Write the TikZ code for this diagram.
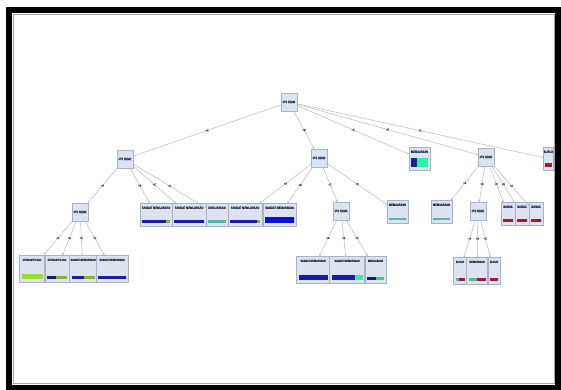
\documentclass[tikz,border=0pt]{standalone}
\usepackage{fontspec}
\usepackage{tikz}
\usetikzlibrary{arrows.meta,calc}
\newfontfamily\treefont[FakeStretch=0.8,FakeBold=1.2]{Liberation Sans}
\definecolor{boxfill}{HTML}{DCE2F0}
\definecolor{boxline}{HTML}{A8B0CC}
\definecolor{edgegray}{HTML}{B8B8B8}
\definecolor{labgray}{HTML}{505050}
\definecolor{textdark}{HTML}{26283A}
\definecolor{sangat}{HTML}{1A1AA6}
\definecolor{brightblue}{HTML}{0A12D8}
\definecolor{navy}{HTML}{14205A}
\definecolor{mint}{HTML}{30EFA8}
\definecolor{teal}{HTML}{5AB4A4}
\definecolor{olive}{HTML}{86B03A}
\definecolor{lime}{HTML}{92E030}
\definecolor{buruk}{HTML}{A01A3A}

\begin{document}
\begin{tikzpicture}[x=1pt,y=-1pt,
 attr/.style={draw=boxline,fill=boxfill,line width=0.4pt,text=textdark,
              font={\treefont\fontsize{3.4}{3.8}\selectfont},
              minimum width=16pt,minimum height=18pt,inner sep=0.5pt},
 leaf/.style={draw=boxline,fill=boxfill,line width=0.4pt,anchor=north,text=textdark,
              font={\treefont\fontsize{3.3}{3.6}\selectfont},
              inner xsep=0.5pt,inner ysep=2.5pt,text height=3.2pt,text depth=14.8pt},
 deep/.style={text depth=18.8pt,font={\treefont\fontsize{2.9}{3.3}\selectfont}},
 bar/.style n args={4}{path picture={
   \coordinate (p) at ($(path picture bounding box.south west)+(2,-3)$);
   \coordinate (q) at ($(path picture bounding box.south east)+(-2,-3)$);
   \fill[#2] (p) rectangle ($(p)!#1!(q)+(0,-#4)$);
   \fill[#3] ($(p)!#1!(q)$) rectangle ($(q)+(0,-#4)$);}},
 link/.style={draw=edgegray,line width=0.5pt,-{To[length=1.6pt,width=2.2pt]}},
 cond/.style={font={\treefont\fontsize{3}{3.4}\selectfont},text=labgray,inner sep=0.5pt}]
\useasboundingbox (0,0) rectangle (561,390);
\draw[line width=6pt] (9,10.5) rectangle (558,387.5);
\draw[gray!70,line width=0.6pt] (13,14.5) rectangle (554.5,383.5);

\node[attr] (root) at (289,102) {IPS SEM4};
\node[attr] (semA) at (125,159) {IPS SEM2};
\node[attr] (semB) at (319,158) {IPS SEM2};
\node[attr] (semC) at (486,157) {IPS SEM2};
\node[attr] (semD) at (80,212) {IPS SEM3};
\node[attr] (semE) at (341,211) {IPS SEM3};
\node[attr] (semF) at (478,211) {IPS SEM1};

\node[leaf,minimum width=21pt,bar={.35}{sangat}{mint}{9}] (mem1) at (419.5,147) {MEMUASKAN};
\node[leaf,minimum width=10pt,bar={1}{buruk}{buruk}{4}] (bur1) at (548.5,147) {BURUK};

\node[leaf,minimum width=32pt,bar={.85}{sangat}{olive}{3}] (lA1) at (156,203) {SANGAT MEMUASKAN};
\node[leaf,minimum width=34pt,bar={1}{sangat}{sangat}{3}] (lA2) at (189,203) {SANGAT MEMUASKAN};
\node[leaf,minimum width=22pt,bar={1}{teal}{teal}{3}] (lA3) at (217,203) {MEMUASKAN};
\node[leaf,minimum width=34pt,bar={.9}{sangat}{olive}{3}] (lB1) at (245,203) {SANGAT MEMUASKAN};
\node[leaf,minimum width=33pt,bar={1}{brightblue}{brightblue}{6}] (lB2) at (279.5,203) {SANGAT MEMUASKAN};
\node[leaf,minimum width=21pt,bar={1}{teal}{teal}{2.5}] (lB3) at (397.5,200) {MEMUASKAN};
\node[leaf,minimum width=21pt,bar={1}{teal}{teal}{2.5}] (lC1) at (441.5,200) {MEMUASKAN};
\node[leaf,minimum width=14pt,bar={1}{buruk}{buruk}{3}] (lC2) at (508,202) {BURUK};
\node[leaf,minimum width=14pt,bar={1}{buruk}{buruk}{3}] (lC3) at (522,202) {BURUK};
\node[leaf,minimum width=14pt,bar={1}{buruk}{buruk}{3}] (lC4) at (536,202) {BURUK};

\node[leaf,deep,minimum width=25pt,bar={1}{lime}{lime}{5}] (lD1) at (32,255) {DENGAN PUJIAN};
\node[leaf,deep,minimum width=24pt,bar={.45}{navy}{olive}{3}] (lD2) at (57,255) {DENGAN PUJIAN};
\node[leaf,deep,minimum width=27pt,bar={.55}{sangat}{olive}{3}] (lD3) at (83,255) {SANGAT MEMUASKAN};
\node[leaf,deep,minimum width=32pt,bar={1}{sangat}{sangat}{3}] (lD4) at (112,255) {SANGAT MEMUASKAN};
\node[leaf,deep,minimum width=33pt,bar={1}{sangat}{sangat}{5}] (lE1) at (313,256) {SANGAT MEMUASKAN};
\node[leaf,deep,minimum width=35pt,bar={.75}{sangat}{mint}{5}] (lE2) at (347,256) {SANGAT MEMUASKAN};
\node[leaf,deep,minimum width=21pt,bar={.55}{navy}{teal}{3}] (lE3) at (375.5,256) {MEMUASKAN};
\node[leaf,deep,minimum width=13pt,bar={.4}{teal}{buruk}{3}] (lF1) at (460,257) {BURUK};
\node[leaf,deep,minimum width=21pt,bar={.5}{teal}{buruk}{3}] (lF2) at (477,257) {MEMUASKAN};
\node[leaf,deep,minimum width=12pt,bar={1}{buruk}{buruk}{3}] (lF3) at (494,257) {BURUK};

\draw[link] (root) -- node[cond]{=A} (semA);
\draw[link] (root) -- node[cond]{=B} (semB);
\draw[link] (root) -- node[cond]{=C} (mem1);
\draw[link] (root) -- node[cond]{=D} (semC);
\draw[link] (root) -- node[cond]{=E} (bur1);
\draw[link] (semA) -- node[cond]{=A} (semD);
\draw[link] (semA) -- node[cond]{=B} (lA1);
\draw[link] (semA) -- node[cond]{=C} (lA2);
\draw[link] (semA) -- node[cond]{=D} (lA3);
\draw[link] (semB) -- node[cond]{=A} (lB1);
\draw[link] (semB) -- node[cond]{=B} (lB2);
\draw[link] (semB) -- node[cond]{=C} (semE);
\draw[link] (semB) -- node[cond]{=D} (lB3);
\draw[link] (semC) -- node[cond]{=A} (lC1);
\draw[link] (semC) -- node[cond]{=B} (semF);
\draw[link] (semC) -- node[cond]{=C} (lC2);
\draw[link] (semC) -- node[cond]{=D} (lC3);
\draw[link] (semC) -- node[cond]{=E} (lC4);
\draw[link] (semD) -- node[cond]{=A} (lD1);
\draw[link] (semD) -- node[cond]{=B} (lD2);
\draw[link] (semD) -- node[cond]{=C} (lD3);
\draw[link] (semD) -- node[cond]{=D} (lD4);
\draw[link] (semE) -- node[cond]{=A} (lE1);
\draw[link] (semE) -- node[cond]{=B} (lE2);
\draw[link] (semE) -- node[cond]{=C} (lE3);
\draw[link] (semF) -- node[cond]{=A} (lF1);
\draw[link] (semF) -- node[cond]{=B} (lF2);
\draw[link] (semF) -- node[cond]{=C} (lF3);
\end{tikzpicture}
\end{document}
